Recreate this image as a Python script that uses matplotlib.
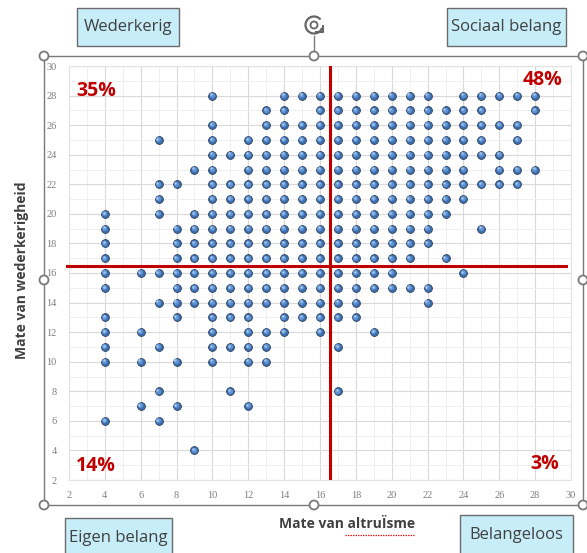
import matplotlib
matplotlib.use("Agg")
import matplotlib.pyplot as plt
from matplotlib.patches import Rectangle, Circle, Arc
from matplotlib.transforms import offset_copy

# altruism score (x) -> list of reciprocity scores (y) seen in that column
alt_scores = [4, 6, 7, 8, 9, 10, 11, 12, 13, 14, 15, 16, 17, 18, 19, 20, 21, 22, 23, 24, 25, 26, 27, 28]
wed_scores = [
    [20, 19, 18, 17, 16, 15, 13, 12, 11, 10, 6],
    [16, 12, 10, 7],
    [25, 22, 21, 20, 16, 14, 11, 8, 6],
    [22, 19, 18, 17, 16, 15, 14, 13, 10, 7],
    [23, 20, 19, 18, 17, 16, 15, 14, 4],
    [28, 26, 25, 24, 23, 22, 21, 20, 19, 18, 17, 16, 15, 14, 13, 12, 11, 10],
    [24, 22, 21, 20, 19, 18, 17, 16, 15, 14, 13, 11, 8],
    [25, 24, 23, 22, 21, 20, 19, 18, 17, 16, 15, 14, 13, 12, 11, 10, 7],
    [27, 26, 25, 24, 23, 22, 21, 20, 19, 18, 17, 16, 15, 14, 12, 11, 10],
    [28, 27, 26, 25, 24, 23, 22, 21, 20, 19, 18, 17, 16, 15, 14, 13, 12],
    [28, 26, 25, 24, 23, 22, 21, 20, 19, 18, 17, 16, 15, 14, 13],
    [28, 27, 26, 25, 24, 23, 22, 21, 20, 19, 18, 17, 16, 15, 14, 13, 12],
    [28, 27, 26, 25, 24, 23, 22, 21, 20, 19, 18, 17, 16, 15, 14, 13, 11, 8],
    [28, 27, 26, 25, 24, 23, 22, 21, 20, 19, 18, 17, 16, 15, 14, 13],
    [28, 27, 26, 25, 24, 23, 22, 21, 20, 19, 18, 17, 16, 15, 12],
    [28, 27, 26, 25, 24, 23, 22, 21, 20, 19, 18, 17, 16, 15],
    [28, 27, 26, 25, 24, 23, 22, 21, 20, 19, 18, 17, 15],
    [28, 27, 26, 25, 24, 23, 22, 21, 20, 19, 18, 15, 14],
    [27, 26, 25, 24, 23, 22, 21, 20, 17],
    [28, 27, 26, 25, 24, 23, 22, 21, 16],
    [28, 27, 26, 25, 24, 22, 19],
    [28, 26, 24, 23, 22],
    [28, 26, 25, 23, 22],
    [28, 27, 23],
]

split_x = 16.55
split_y = 16.45
quadrant_pct = ["35%", "48%", "14%", "3%"]
quadrant_names = ["Wederkerig", "Sociaal belang", "Eigen belang", "Belangeloos"]

xs = []
ys = []
for x, col in zip(alt_scores, wed_scores):
    for y in col:
        xs.append(x)
        ys.append(y)

W, H = 587, 553
fig = plt.figure(figsize=(W / 100, H / 100), dpi=100)

# plot area in pixels: x 69..571, y 66..480
ax = fig.add_axes([69 / W, 1 - 480 / H, (571 - 69) / W, (480 - 66) / H])
ax.set_xlim(2, 30)
ax.set_ylim(2, 30)
ax.set_xticks(range(2, 31, 2))
ax.set_yticks(range(2, 31, 2))
ax.set_xticks(range(3, 30, 2), minor=True)
ax.set_yticks(range(3, 30, 2), minor=True)
ax.grid(which="major", color="#d9d9d9", lw=0.8)
ax.grid(which="minor", color="#ededed", lw=0.6)
ax.set_axisbelow(True)
ax.tick_params(which="both", length=0)
ax.tick_params(axis="x", pad=8, labelsize=7.5, labelcolor="#7f7f7f")
ax.tick_params(axis="y", pad=9, labelsize=7.5, labelcolor="#7f7f7f")
for lab in ax.get_xticklabels() + ax.get_yticklabels():
    lab.set_fontfamily("Liberation Serif")
for s in ax.spines.values():
    s.set_color("#e3e3e3")
    s.set_linewidth(0.8)

# sphere-ish markers: dark rim + lighter blue body + small highlight
ax.scatter(xs, ys, s=32, color="#3d6fae", edgecolors="#1a2e4c", linewidths=0.5, zorder=3)
hl = offset_copy(ax.transData, fig=fig, x=-0.5, y=0.5, units="points")
ax.scatter(xs, ys, s=14, color="#5f93d3", linewidths=0, transform=hl, zorder=4)
hl2 = offset_copy(ax.transData, fig=fig, x=-0.9, y=0.9, units="points")
ax.scatter(xs, ys, s=3, color="#a9c8ee", linewidths=0, transform=hl2, zorder=4)

ax.plot([1.87, 29.7], [split_y, split_y], color="#c00000", lw=2.2, clip_on=False, zorder=5)
ax.axvline(split_x, color="#c00000", lw=2.2, zorder=5)

pct_kw = dict(color="#c00000", fontsize=14, fontweight="bold", family="Open Sans", va="center", zorder=6)
ax.text(2.39, 28.3, quadrant_pct[0], ha="left", **pct_kw)
ax.text(29.5, 29.05, quadrant_pct[1], ha="right", **pct_kw)
ax.text(2.39, 2.95, quadrant_pct[2], ha="left", **pct_kw)
ax.text(29.33, 3.1, quadrant_pct[3], ha="right", **pct_kw)

# overlay in pixel coordinates for the frame, handles and labels
ov = fig.add_axes([0, 0, 1, 1], zorder=10)
ov.set_xlim(0, W)
ov.set_ylim(H, 0)
ov.axis("off")
ov.patch.set_alpha(0)

fc = "#7a7a7a"
ov.plot([44, 587], [56, 56], color=fc, lw=1)
ov.plot([44, 587], [505, 505], color=fc, lw=1)
ov.plot([44, 44], [56, 505], color=fc, lw=1)
ov.plot([583, 583], [56, 505], color=fc, lw=1)
ov.plot([314, 314], [36, 56], color=fc, lw=1)
for hx, hy in [(44, 56), (314, 56), (583, 56), (44, 280), (583, 280), (44, 505), (314, 505), (583, 505)]:
    ov.add_patch(Circle((hx, hy), 4.5, facecolor="white", edgecolor=fc, lw=1.3, zorder=3))
# rotate icon
ov.add_patch(Arc((314, 25), 17, 17, theta1=20, theta2=320, color="#666666", lw=1.6))
ov.add_patch(Circle((314, 25), 3.5, facecolor="none", edgecolor="#666666", lw=1.3))
ov.plot([316, 322.5, 322.5], [32, 32, 26], color="#666666", lw=1.5)

box_fc = "#c7edf8"
box_ec = "#6b6b6b"
boxes = [(77, 8, 179, 46, 27), (447, 8, 566, 46, 27), (65, 518, 172, 560, 538), (460, 515, 573, 560, 535)]
for name, (x0, y0, x1, y1, ty) in zip(quadrant_names, boxes):
    ov.add_patch(Rectangle((x0, y0), x1 - x0, y1 - y0, facecolor=box_fc, edgecolor=box_ec, lw=1))
    ov.text((x0 + x1) / 2, ty, name, ha="center", va="center", fontsize=12,
            family="Open Sans", color="#404040")

ov.text(347, 524, "Mate van altruÏsme", ha="center", va="center", fontsize=10,
        fontweight="bold", family="Open Sans", color="#404040")
ov.plot([345, 414], [534.5, 534.5], color="#e02020", lw=0.9, ls=(0, (1.2, 0.8)))
ov.text(22, 270, "Mate van wederkerigheid", ha="center", va="center", fontsize=10,
        fontweight="bold", family="Open Sans", color="#404040", rotation=90)

fig.savefig("out.png", dpi=100)
plt.close(fig)
